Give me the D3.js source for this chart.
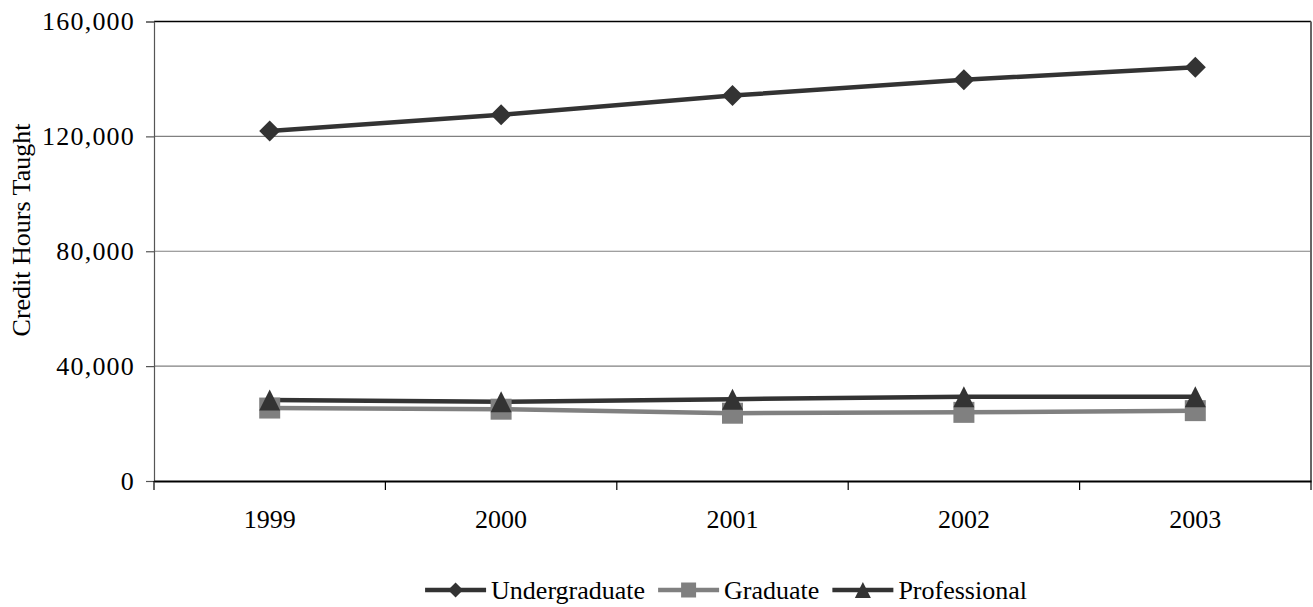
<!DOCTYPE html>
<html>
<head>
<meta charset="utf-8">
<script src="https://cdn.jsdelivr.net/npm/d3@7"></script>
<style>
  body { margin: 0; background: #fff; }
  text { font-family: "Liberation Serif", "Times New Roman", serif; fill: #000; }
</style>
</head>
<body>
<div id="chart"></div>
<script>
const years = ['1999', '2000', '2001', '2002', '2003'];
const undergraduate = [121900, 127500, 134200, 139700, 144100];
const graduate = [25400, 25000, 23600, 23900, 24500];
const professional = [28200, 27600, 28500, 29300, 29300];
const yTicks = [0, 40000, 80000, 120000, 160000];

// marker shapes sized by bounding box (size = box side in px)
const diamond = {
  draw(ctx, s) {
    const r = s / 2;
    ctx.moveTo(0, -r); ctx.lineTo(r, 0); ctx.lineTo(0, r); ctx.lineTo(-r, 0); ctx.closePath();
  }
};
const square = {
  draw(ctx, s) {
    const r = s / 2;
    ctx.rect(-r, -r, s, s);
  }
};
const triangle = {
  draw(ctx, s) {
    const r = s / 2;
    ctx.moveTo(0, -r); ctx.lineTo(r, r); ctx.lineTo(-r, r); ctx.closePath();
  }
};

const series = [
  { name: 'Undergraduate', values: undergraduate, color: '#333333', shape: diamond, size: 21, legendSize: 15 },
  { name: 'Graduate', values: graduate, color: '#808080', shape: square, size: 21, legendSize: 15 },
  { name: 'Professional', values: professional, color: '#333333', shape: triangle, size: 21, legendSize: 16 }
];

const W = 1313, H = 607;
const margin = { left: 154, right: 2, top: 21.5, bottom: 126 };
const width = W - margin.left - margin.right;
const height = H - margin.top - margin.bottom;

const svg = d3.select('#chart').append('svg')
  .attr('width', W)
  .attr('height', H);

const g = svg.append('g')
  .attr('transform', `translate(${margin.left}, ${margin.top})`);

const x = d3.scaleBand()
  .domain(years)
  .range([0, width]);

const y = d3.scaleLinear()
  .domain([0, 160000])
  .range([height, 0]);

// gridlines
g.append('g')
  .selectAll('line')
  .data(yTicks.filter(d => d > 0 && d < 160000))
  .join('line')
    .attr('x1', 0)
    .attr('x2', width)
    .attr('y1', d => y(d))
    .attr('y2', d => y(d))
    .attr('stroke', '#808080')
    .attr('stroke-width', 1.2);

// plot frame top / right
g.append('line')
  .attr('x1', 0).attr('x2', width)
  .attr('y1', 0).attr('y2', 0)
  .attr('stroke', '#000').attr('stroke-width', 1.5);
g.append('line')
  .attr('x1', width).attr('x2', width)
  .attr('y1', 0).attr('y2', height)
  .attr('stroke', '#666').attr('stroke-width', 2);

// y axis
const yAxis = g.append('g')
  .call(d3.axisLeft(y).tickValues(yTicks).tickSize(8).tickPadding(11).tickFormat(d3.format(',')));
yAxis.select('.domain').attr('stroke', '#555').attr('stroke-width', 1.2);
yAxis.selectAll('.tick line').attr('stroke', '#555').attr('stroke-width', 1.2);
yAxis.selectAll('text')
  .attr('font-size', '26px')
  .attr('letter-spacing', '1.2px');

// x axis with ticks between categories
const xAxis = g.append('g')
  .attr('transform', `translate(0, ${height})`)
  .call(d3.axisBottom(x).tickSize(0).tickPadding(29));
xAxis.select('.domain').attr('stroke', '#000').attr('stroke-width', 2);
xAxis.selectAll('text').attr('font-size', '26px');
xAxis.append('g')
  .selectAll('line')
  .data(years.map(d => x(d)).concat([width]))
  .join('line')
    .attr('x1', d => d).attr('x2', d => d)
    .attr('y1', 0).attr('y2', 9)
    .attr('stroke', '#000').attr('stroke-width', 1.2);

// lines and markers
const line = d3.line()
  .x((d, i) => x(years[i]) + x.bandwidth() / 2)
  .y(d => y(d));

series.forEach(s => {
  g.append('path')
    .datum(s.values)
    .attr('fill', 'none')
    .attr('stroke', s.color)
    .attr('stroke-width', 4.5)
    .attr('d', line);
});

series.forEach(s => {
  const sym = d3.symbol().type(s.shape).size(s.size);
  g.append('g')
    .selectAll('path')
    .data(s.values)
    .join('path')
      .attr('transform', (d, i) => `translate(${x(years[i]) + x.bandwidth() / 2}, ${y(d)})`)
      .attr('d', sym)
      .attr('fill', s.color);
});

// y label
svg.append('text')
  .attr('transform', `translate(30, 230) rotate(-90)`)
  .attr('text-anchor', 'middle')
  .attr('font-size', '26px')
  .text('Credit Hours Taught');

// legend
const legend = svg.append('g').attr('transform', 'translate(0, 590)');
const lineLen = 61, gapText = 5, gapItem = 13;
let cursor = 0;
const items = series.map(s => {
  const item = legend.append('g');
  item.append('line')
    .attr('x1', 0).attr('x2', lineLen)
    .attr('stroke', s.color).attr('stroke-width', 4.5);
  item.append('path')
    .attr('transform', `translate(${lineLen / 2}, 0)`)
    .attr('d', d3.symbol().type(s.shape).size(s.legendSize))
    .attr('fill', s.color);
  const t = item.append('text')
    .attr('x', lineLen + gapText)
    .attr('dy', '0.35em')
    .attr('font-size', '26px')
    .text(s.name);
  const w = lineLen + gapText + t.node().getComputedTextLength();
  const pos = cursor;
  cursor += w + gapItem;
  return { item, pos };
});
const total = cursor - gapItem;
const start = 726 - total / 2;
items.forEach(({ item, pos }) => item.attr('transform', `translate(${start + pos}, 0)`));
</script>
</body>
</html>
